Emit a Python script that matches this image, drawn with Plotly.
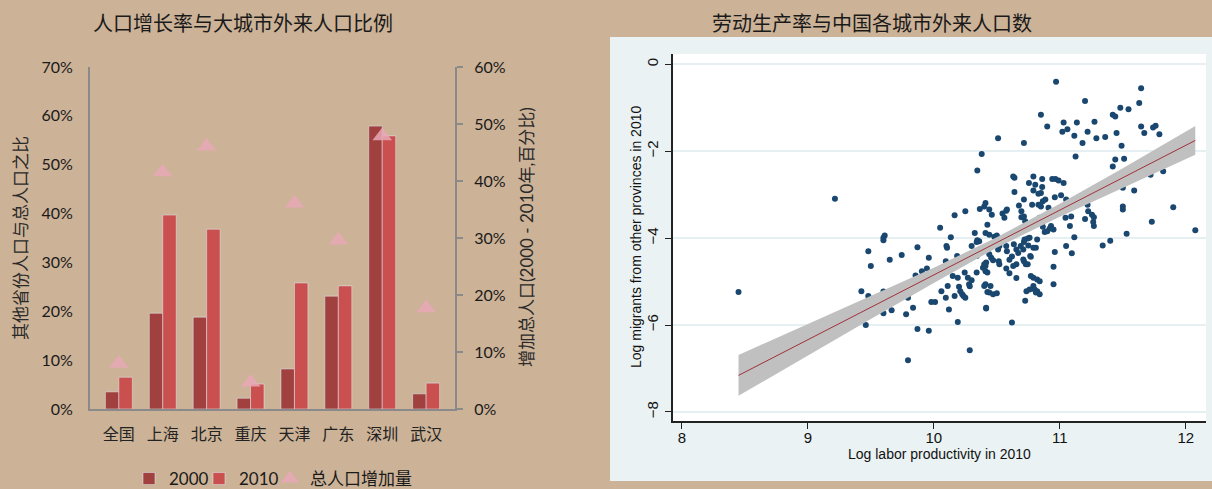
import plotly.graph_objects as go

W, H = 1212, 489
BG = "#CCB297"

# ---------------- Left chart data ----------------
cities = ["全国", "上海", "北京", "重庆", "天津", "广东", "深圳", "武汉"]
share_2000 = [0.035, 0.196, 0.188, 0.022, 0.082, 0.231, 0.579, 0.031]
share_2010 = [0.065, 0.397, 0.368, 0.051, 0.258, 0.252, 0.559, 0.053]
pop_growth = [0.080, 0.416, 0.461, 0.047, 0.361, 0.296, 0.479, 0.177]
left_ticks = [0, 0.1, 0.2, 0.3, 0.4, 0.5, 0.6, 0.7]
right_ticks = [0, 0.1, 0.2, 0.3, 0.4, 0.5, 0.6]

# ---------------- Right chart data ----------------
pts = [
    (10.97,-0.40),(11.645,-0.55),(11.20,-0.84),(11.63,-0.89),(11.48,-1.00),(11.545,-1.03),(10.85,-1.16),
    (11.42,-1.16),(11.44,-1.20),(11.03,-1.34),(11.135,-1.34),(11.275,-1.32),(10.90,-1.43),(11.645,-1.43),
    (11.74,-1.45),(11.76,-1.41),(11.02,-1.55),(11.06,-1.49),(11.22,-1.55),(11.45,-1.58),(11.67,-1.58),
    (11.79,-1.61),(11.115,-1.64),(11.29,-1.70),(11.36,-1.67),(11.18,-1.81),(10.715,-1.81),(10.51,-1.70),
    (11.49,-1.87),(11.125,-2.12),(11.44,-2.19),(11.42,-2.35),(11.51,-2.17),(11.82,-2.46),(11.72,-2.54),
    (10.38,-2.06),(10.345,-2.44),
    (10.64,-2.61),(10.63,-2.58),(10.79,-2.58),(10.86,-2.64),(10.755,-2.73),(10.805,-2.77),(10.94,-2.64),
    (10.965,-2.64),(10.99,-2.67),(11.03,-2.73),(10.86,-2.82),(10.64,-2.94),(10.79,-2.90),(10.83,-2.98),
    (10.85,-2.96),(10.96,-3.06),(11.01,-3.01),(10.715,-3.11),(10.885,-3.11),(10.865,-3.15),(10.675,-3.25),
    (10.78,-3.23),(10.83,-3.23),(10.85,-3.27),(10.91,-3.30),(11.05,-3.11),(10.58,-3.34),(10.545,-3.43),
    (10.695,-3.38),(10.695,-3.52),(10.715,-3.50),(10.725,-3.61),(11.22,-3.23),(11.225,-3.38),(11.09,-3.50),
    (11.045,-3.53),(11.20,-3.56),(11.27,-3.52),(11.255,-3.46),(11.265,-3.63),(11.50,-2.84),(11.59,-2.90),
    (11.50,-3.27),(11.50,-3.34),(11.90,-3.29),(11.73,-3.62),(12.075,-3.82),(10.93,-3.72),(11.08,-3.72),
    (10.72,-3.76),(11.27,-3.72),(11.53,-3.90),(11.40,-4.06),(11.34,-4.17),(11.115,-3.98),(11.05,-4.18),
    (11.095,-4.35),(10.865,-3.74),(10.92,-3.78),(10.95,-3.80),(10.84,-3.53),(10.87,-3.50),
    (10.41,-3.19),(10.40,-3.27),(10.44,-3.34),(10.46,-3.46),(10.425,-3.69),(10.575,-3.37),(10.56,-3.53),
    (10.365,-3.33),(10.25,-3.38),(10.165,-3.47),(10.05,-3.76),
    (10.96,-4.32),(10.95,-4.66),(10.95,-5.06),(10.90,-3.84),(10.88,-3.86),(10.82,-4.03),(10.79,-4.22),
    (10.745,-4.01),(10.75,-4.17),(10.715,-4.53),(10.73,-4.60),(10.765,-4.41),(10.79,-4.91),(10.82,-4.95),
    (10.84,-4.99),(10.735,-5.22),(10.79,-5.10),(10.80,-5.18),(10.82,-5.22),(10.84,-5.29),(10.725,-5.44),
    (10.655,-4.92),(10.62,-5.94),(10.44,-3.92),(10.48,-3.97),(10.50,-3.94),(10.52,-4.18),(10.51,-4.26),
    (10.575,-4.18),(10.44,-4.37),(10.455,-4.45),(10.47,-4.51),(10.415,-4.56),(10.41,-4.64),(10.515,-4.53),
    (10.52,-4.60),(10.635,-4.14),(10.655,-4.26),(10.67,-4.34),(10.69,-4.18),(10.71,-4.26),(10.715,-4.09),
    (10.72,-4.03),(10.76,-3.99),(10.81,-4.22),(10.77,-4.43),(10.71,-4.49),(10.745,-4.60),(10.655,-4.60),
    (10.63,-4.64),(10.575,-4.70),(10.60,-4.81),(10.77,-4.87),(10.76,-5.18),(10.81,-5.25),(10.40,-5.10),
    (10.44,-5.25),(10.47,-5.29),(10.50,-5.27),(10.415,-5.62),(10.45,-5.10),(10.60,-4.50),(10.62,-4.42),
    (10.58,-4.30),
    (9.60,-3.99),(9.61,-3.94),(9.60,-4.05),(10.135,-3.98),(10.325,-3.88),(10.345,-4.05),(10.36,-4.07),
    (10.34,-4.09),(10.41,-3.88),(9.87,-4.21),(10.10,-4.18),(10.105,-4.22),(10.30,-4.18),(9.48,-4.30),
    (9.745,-4.39),(9.96,-4.45),(9.65,-4.50),(10.185,-4.41),(10.095,-4.53),(9.50,-4.64),(9.945,-4.70),
    (9.905,-4.76),(9.855,-4.86),(10.15,-4.87),(10.19,-4.91),(10.245,-4.79),(10.27,-4.91),(10.34,-4.79),
    (10.39,-4.68),(10.41,-4.76),(10.40,-4.60),(10.425,-4.79),(10.30,-4.97),(10.28,-5.06),(10.285,-5.11),
    (10.20,-5.12),(10.11,-5.10),(10.06,-5.22),(10.095,-5.37),(10.165,-5.33),(10.21,-5.22),(10.225,-5.29),
    (10.235,-5.33),(10.25,-5.37),(10.41,-5.06),(10.425,-5.24),(9.98,-5.47),(10.01,-5.47),(9.835,-5.60),
    (9.78,-5.75),(10.12,-5.64),(10.415,-5.60),(10.19,-5.93),(9.425,-5.22),(9.48,-5.33),(9.665,-5.66),
    (9.60,-5.73),(9.46,-6.00),(9.87,-6.09),(9.96,-6.13),(10.285,-6.58),(9.795,-6.81),(8.45,-5.24),
    (9.215,-3.09),(9.795,-5.37),(10.34,-4.41),(10.345,-4.33),(9.60,-5.23),
]
prod_x = [p[0] for p in pts]
migr_y = [p[1] for p in pts]

fit_x = [8.45, 9.0, 9.5, 10.0, 10.5, 11.0, 11.5, 12.075]
fit_y = [-7.16, -6.34, -5.60, -4.85, -4.10, -3.36, -2.61, -1.75]
ci_hi = [-6.69, -5.98, -5.34, -4.68, -3.98, -3.21, -2.39, -1.42]
ci_lo = [-7.63, -6.70, -5.86, -5.03, -4.22, -3.51, -2.84, -2.08]

x_ticks_r = [8, 9, 10, 11, 12]
y_ticks_r = [0, -2, -4, -6, -8]

def px_x(p):
    return p / W

def px_y(p):
    return 1 - p / H

fig = go.Figure()

# ---- left chart traces ----
fig.add_trace(go.Bar(x=cities, y=share_2000, name="2000", marker_color="#A0403F",
                     xaxis="x", yaxis="y", legend="legend"))
fig.add_trace(go.Bar(x=cities, y=share_2010, name="2010", marker_color="#C9504F",
                     xaxis="x", yaxis="y", legend="legend2"))
fig.add_trace(go.Scatter(x=cities, y=pop_growth, name="总人口增加量", mode="markers",
                         marker=dict(symbol="triangle-up", size=17, color="rgba(232,168,182,0.85)"),
                         xaxis="x", yaxis="y2", legend="legend3"))

# ---- right chart traces ----
fig.add_trace(go.Scatter(x=prod_x, y=migr_y, mode="markers", showlegend=False,
                         marker=dict(symbol="circle", size=6, color="#1A476F"),
                         xaxis="x3", yaxis="y3"))
fig.add_trace(go.Scatter(x=fit_x + fit_x[::-1], y=ci_hi + ci_lo[::-1], mode="lines",
                         fill="toself", fillcolor="#C0C0C0", line=dict(width=0),
                         showlegend=False, xaxis="x3", yaxis="y3"))
fig.add_trace(go.Scatter(x=fit_x, y=fit_y, mode="lines", showlegend=False,
                         line=dict(color="#A0303A", width=1),
                         xaxis="x3", yaxis="y3"))

pct_font = dict(family="Lato, Noto Sans CJK SC", size=16, color="#1a1a1a")
cjk_font = dict(family="Noto Sans CJK SC", size=16, color="#222222")
arial = dict(family="Liberation Sans, Arial", size=15, color="#111111")

def make_legend(x_px):
    return dict(orientation="h", x=px_x(x_px), y=px_y(461), xanchor="left", yanchor="top",
                font=dict(family="Lato, Noto Sans CJK SC", size=17, color="#1a1a1a"),
                bgcolor="rgba(0,0,0,0)", itemwidth=30)

fig.update_layout(
    width=W, height=H,
    margin=dict(l=0, r=0, t=0, b=0, autoexpand=False),
    paper_bgcolor=BG, plot_bgcolor="rgba(0,0,0,0)",
    barmode="group", bargap=0.386, bargroupgap=0,
    showlegend=True,
    legend=make_legend(129),
    legend2=make_legend(199),
    legend3=make_legend(270),
    xaxis=dict(domain=[px_x(90), px_x(455)], anchor="y", type="category",
               showline=True, linecolor="#8A8A8A", linewidth=2, ticks="",
               tickfont=cjk_font, ticklabelstandoff=10, showgrid=False, zeroline=False,
               automargin=False),
    yaxis=dict(domain=[px_y(409), px_y(67)], anchor="x", range=[0, 0.70],
               tickvals=left_ticks, tickformat=".0%", showline=True, linecolor="#8A8A8A",
               linewidth=2, ticks="", showgrid=False, zeroline=False, tickfont=pct_font,
               ticklabelstandoff=12, automargin=False),
    yaxis2=dict(overlaying="y", side="right", anchor="x", range=[0, 0.60],
                tickvals=right_ticks, tickformat=".0%", showline=True, linecolor="#8A8A8A",
                linewidth=2, ticks="outside", ticklen=6, tickcolor="#8A8A8A", tickwidth=2,
                showgrid=False, zeroline=False, tickfont=pct_font, ticklabelstandoff=8,
                automargin=False),
    xaxis3=dict(domain=[px_x(673), px_x(1206)], anchor="y3", range=[7.93, 12.16],
                tickvals=x_ticks_r, showline=True, linecolor="#222222", linewidth=1.5,
                ticks="outside", ticklen=6, tickcolor="#222222", showgrid=False,
                zeroline=False, tickfont=arial, ticklabelstandoff=-4, automargin=False),
    yaxis3=dict(domain=[px_y(421), px_y(54)], anchor="x3", range=[-8.21, 0.24],
                tickvals=y_ticks_r, tickangle=-90, showline=True, linecolor="#222222",
                linewidth=1.5, ticks="outside", ticklen=6, tickcolor="#222222",
                showgrid=True, gridcolor="#E6EFF2", gridwidth=1.5, zeroline=False,
                tickfont=arial, ticklabelstandoff=1, automargin=False),
    shapes=[
        dict(type="rect", xref="paper", yref="paper", x0=px_x(610), x1=1.0,
             y0=px_y(481), y1=px_y(37), fillcolor="#EAF2F3", line=dict(width=0), layer="below"),
        dict(type="rect", xref="paper", yref="paper", x0=px_x(673), x1=px_x(1206),
             y0=px_y(421), y1=px_y(54), fillcolor="#FFFFFF", line=dict(width=0), layer="below"),
    ],
    annotations=[
        dict(text="人口增长率与大城市外来人口比例", x=px_x(243), y=px_y(22), xref="paper", yref="paper",
             showarrow=False, xanchor="center", yanchor="middle",
             font=dict(family="Noto Sans CJK SC", size=20, color="#1a1a1a")),
        dict(text="劳动生产率与中国各城市外来人口数", x=px_x(872), y=px_y(22), xref="paper", yref="paper",
             showarrow=False, xanchor="center", yanchor="middle",
             font=dict(family="Noto Sans CJK SC", size=20, color="#1a1a1a")),
        dict(text="其他省份人口与总人口之比", x=px_x(20), y=px_y(238), xref="paper", yref="paper",
             showarrow=False, textangle=-90, xanchor="center", yanchor="middle",
             font=dict(family="Noto Sans CJK SC", size=17, color="#2a2a2a")),
        dict(text="增加总人口(2000 - 2010年,百分比)", x=px_x(526), y=px_y(237), xref="paper", yref="paper",
             showarrow=False, textangle=-90, xanchor="center", yanchor="middle",
             font=dict(family="Lato, Noto Sans CJK SC", size=17, color="#2a2a2a")),
        dict(text="Log migrants from other provinces in 2010", x=px_x(636), y=px_y(237),
             xref="paper", yref="paper", showarrow=False, textangle=-90,
             xanchor="center", yanchor="middle",
             font=dict(family="Liberation Sans, Arial", size=14, color="#111111")),
        dict(text="Log labor productivity in 2010", x=px_x(940), y=px_y(454),
             xref="paper", yref="paper", showarrow=False, xanchor="center", yanchor="middle",
             font=dict(family="Liberation Sans, Arial", size=14, color="#111111")),
    ],
)

fig.write_html("out.html")
